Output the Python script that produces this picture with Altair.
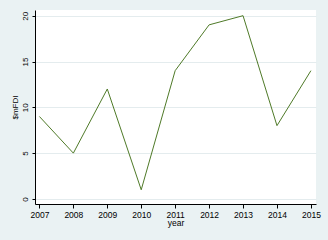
import altair as alt
import pandas as pd

years = [2007, 2008, 2009, 2010, 2011, 2012, 2013, 2014, 2015]
mfdi = [9, 5, 12, 1, 14, 19, 20, 8, 14]

df = pd.DataFrame({"year": years, "mFDI": mfdi})

line_color = "#4f7a28"
bg = "#eaf2f3"

chart = alt.Chart(df).mark_line(color=line_color, strokeWidth=1).encode(
    x=alt.X(
        "year:Q",
        scale=alt.Scale(domain=[2006.87, 2015.15], nice=False, zero=False),
        axis=alt.Axis(
            values=years, format="d", title="year", grid=False,
            tickSize=4, labelPadding=2, titlePadding=0,
            domainColor="black", tickColor="black",
            labelFontSize=8.5, titleFontSize=8.5,
            labelFont="Liberation Sans", titleFont="Liberation Sans",
            titleFontWeight="normal", labelColor="black", titleColor="black",
        ),
    ),
    y=alt.Y(
        "mFDI:Q",
        scale=alt.Scale(domain=[-0.55, 20.62], nice=False, zero=False),
        axis=alt.Axis(
            values=[0, 5, 10, 15, 20], title="$mFDI", grid=True,
            gridColor="#e4ecee", gridWidth=1,
            tickSize=3, labelAngle=-90, labelAlign="center",
            labelBaseline="bottom", labelPadding=3,
            titleX=-20, titleY=97, titleBaseline="middle", titleAngle=-90,
            domainColor="black", tickColor="black",
            labelFontSize=8, titleFontSize=8,
            labelFont="Liberation Sans", titleFont="Liberation Sans",
            titleFontWeight="normal", labelColor="black", titleColor="black",
        ),
    ),
).properties(
    width=281,
    height=194,
    autosize=alt.AutoSizeParams(type="none"),
    padding={"left": 35, "top": 10, "right": 12, "bottom": 36},
    background=bg,
).configure_view(fill="white", stroke=None)

chart.save("out.html", embed_options={"renderer": "svg", "actions": False})
